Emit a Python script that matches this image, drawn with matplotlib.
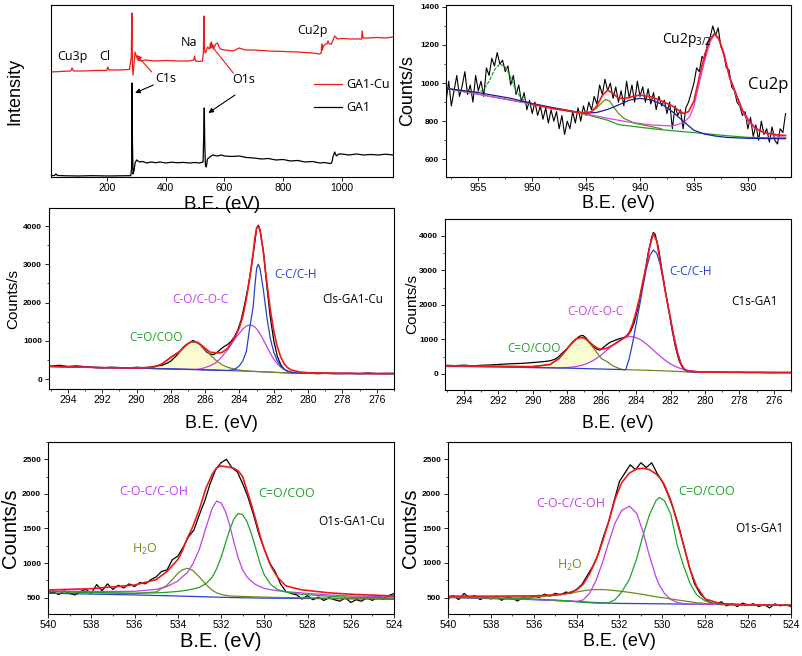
import matplotlib.pyplot as plt
import numpy as np
from matplotlib.ticker import AutoMinorLocator

plt.rcParams['font.family'] = ['Liberation Sans', 'DejaVu Sans']
plt.rcParams['mathtext.default'] = 'regular'
plt.rcParams['axes.linewidth'] = 0.8

RED = '#ee1a1a'
BLUE = '#2a40c8'
NAVY = '#1c1c9a'
PURPLE = '#c040ee'
MAGENTA = '#e040e0'
GREEN = '#1fa22a'
OLIVE = '#6e8a1c'
NOTE_FONT = ['Open Sans', 'DejaVu Sans']

# ---------------- survey ----------------
survey_ticks = [200, 400, 600, 800, 1000]
sv_ga1_x = [8, 20, 25, 30, 60, 100, 150, 200, 250, 280, 283, 284.5, 286, 288, 291, 295, 300, 310, 320,
            335, 350, 365, 380, 400, 420, 440, 460, 480, 500, 515, 527, 529, 531, 533, 535, 538, 542,
            550, 560, 575, 590, 600, 625, 650, 675, 700, 725, 750, 775, 800, 825, 850, 875, 900, 925,
            940, 960, 966, 970, 976, 982, 990, 1000, 1025, 1050, 1075, 1100, 1125, 1150, 1175]
sv_ga1_y = [1.5, 1.5, 3, 1.5, 1.2, 1.0, 1.3, 1.0, 1.2, 1.3, 8, 94, 35, 3, 6, 14, 17, 15, 15.5,
            14, 15, 14.3, 15, 14, 14.8, 14.2, 14.6, 14, 14.5, 14, 15, 40, 69, 30, 12, 10, 18,
            20, 22, 21, 22, 21, 20.5, 21, 19.5, 19, 18, 18.5, 17, 17.5, 16, 16.5, 15, 15.5, 14,
            14.5, 13.5, 14, 20, 25, 21, 23, 23, 22, 23, 22, 22.5, 22, 22.8, 22]
sv_cu_x = [8, 40, 75, 80, 85, 120, 160, 198, 202, 206, 240, 276, 282, 284, 286, 288, 291, 295, 300,
           305, 315, 330, 360, 400, 440, 480, 495, 498, 501, 515, 525, 528, 530, 532, 534, 537, 542,
           548, 555, 562, 570, 576, 585, 600, 630, 650, 670, 700, 750, 800, 850, 900, 925, 930, 932,
           934, 938, 945, 950, 953, 958, 965, 972, 977, 985, 1000, 1030, 1060, 1068, 1070, 1073,
           1090, 1120, 1150, 1175]
sv_cu_y = [105, 105.5, 106, 109, 106, 106, 106.5, 106.5, 110, 107, 107, 107.5, 120, 164, 110, 102,
           112, 125, 120, 117, 116, 117, 116, 116.5, 116, 116, 117, 121, 116, 115.5, 116, 125, 161,
           128, 124, 125, 130, 128, 135, 128, 133, 134, 128, 127, 126, 129, 127, 127, 126, 125.5,
           125, 124, 123, 124, 133, 127, 131, 133, 133, 136, 133, 133, 138, 141, 138, 138.5, 138,
           138, 138, 146, 139, 139, 139.5, 139, 140]

# ---------------- Cu2p ----------------
cu_raw = [900, 1010, 880, 960, 1040, 930, 985, 1060, 940, 990, 900, 1040, 960, 1010, 930, 1080,
          1040, 1130, 1090, 1160, 1100, 1120, 1060, 1090, 990, 1040, 940, 990, 900, 950, 860, 910,
          840, 900, 830, 880, 810, 870, 790, 860, 800, 850, 760, 830, 730, 800, 760, 850, 790, 870,
          800, 880, 830, 900, 860, 930, 890, 990, 940, 1020, 960, 1000, 920, 980, 900, 960, 880,
          1010, 920, 990, 900, 1010, 930, 980, 900, 970, 890, 950, 860, 930, 880, 910, 840, 900,
          760, 880, 830, 860, 760, 870, 900, 950, 1000, 1080, 1060, 1140, 1120, 1210, 1240, 1300,
          1250, 1290, 1190, 1160, 1080, 1070, 980, 960, 900, 880, 830, 850, 760, 820, 720, 780,
          700, 800, 730, 760, 690, 770, 700, 680, 760, 740, 840]
cu_raw_x = np.linspace(958, 926.5, len(cu_raw))
cu_blue_x = [958, 955, 952, 950, 948, 946, 945, 944, 943, 942, 941, 940, 939, 938, 937, 936.3, 935,
             934, 933, 932, 930, 927, 926.5]
cu_blue_y = [972, 950, 920, 893, 870, 850, 842, 846, 862, 885, 910, 920, 912, 890, 850, 815, 752,
             732, 722, 715, 710, 708, 708]
cu_half_x = [958, 956, 955, 954.5, 954, 953.5, 953, 952.5, 952, 951.5, 951, 950.5, 950, 949]
cu_half_y = [972, 958, 952, 965, 1010, 1070, 1100, 1085, 1030, 960, 920, 900, 890, 880]
cu_sat_x = [945, 944.5, 944, 943.5, 943.2, 942.8, 942.4, 942, 941.5, 940.5, 939, 938]
cu_sat_y = [838, 850, 870, 900, 914, 905, 870, 841, 815, 789, 772, 760]
cu_bg_x = [958, 950, 945, 943, 942, 940, 938, 936, 934, 932, 930, 927, 926.5]
cu_bg_y = [972, 890, 835, 805, 782, 768, 755, 745, 735, 724, 715, 712, 712]
cu_main_x = [958, 950, 945, 943, 941, 939, 937, 936, 935.4, 935, 934.5, 934, 933.5, 933.1, 932.7,
             932.2, 931.7, 931, 930.5, 930, 929.3, 928.5, 927, 926.5]
cu_main_y = [972, 890, 838, 815, 795, 780, 775, 790, 823, 880, 1000, 1120, 1215, 1255, 1230, 1140,
             1030, 920, 850, 800, 763, 740, 718, 715]
cu_env_x = [950, 948, 946, 945, 944.5, 944, 943.5, 943, 942.5, 942, 941.4, 940.5, 940, 939, 938.2,
            937, 936, 935.5, 935, 934.5, 934, 933.5, 933.1, 932.7, 932.2, 931.7, 931, 930.5, 930,
            929.3, 928.5, 927.1, 926.5]
cu_env_y = [888, 865, 848, 843, 850, 880, 935, 963, 945, 920, 920, 932, 937, 928, 911, 880, 841, 850,
            905, 1033, 1150, 1230, 1260, 1235, 1150, 1033, 930, 858, 810, 763, 740, 727, 725]

# ---------------- C1s GA1-Cu ----------------
c1a_raw_x = [295, 294.5, 294, 293.5, 293, 292.5, 292, 291.5, 291, 290.5, 290, 289.5, 289, 288.5,
             288.2, 288, 287.7, 287.5, 287.3, 287.1, 286.9, 286.7, 286.5, 286.3, 286.1, 285.9, 285.7,
             285.5, 285.3, 285.1, 284.9, 284.7, 284.5, 284.3, 284.1, 283.9, 283.7, 283.5, 283.3,
             283.1, 283.0, 282.9, 282.8, 282.6, 282.4, 282.2, 282.0, 281.8, 281.6, 281.4, 281.2,
             281, 280.5, 280, 279.5, 279, 278.5, 278, 277.5, 277, 276.5, 276, 275.5, 275]
c1a_raw_y = [340, 360, 330, 345, 325, 300, 290, 310, 300, 280, 310, 290, 330, 360, 420, 470, 600,
             700, 820, 900, 950, 1010, 960, 900, 800, 700, 650, 640, 700, 780, 850, 900, 980, 1100,
             1280, 1550, 1950, 2400, 2950, 3600, 3950, 4020, 3900, 3300, 2400, 1600, 1000, 600,
             380, 260, 200, 170, 150, 160, 140, 150, 140, 145, 150, 140, 160, 145, 150, 150]
c1a_x = [295, 292, 290, 289, 288.5, 288, 287.5, 287.2, 287, 286.8, 286.6, 286.4, 286.2, 286, 285.7,
         285.4, 285.2, 285, 284.7, 284.4, 284.2, 284, 283.8, 283.6, 283.4, 283.2, 283.1, 283, 282.9,
         282.8, 282.6, 282.4, 282.2, 282, 281.8, 281.6, 281.4, 281.2, 281, 280.5, 280, 278, 275]
c1a_base = [330, 300, 285, 275, 270, 265, 258, 255, 252, 250, 248, 246, 243, 240, 237, 233, 230, 227,
            222, 218, 215, 212, 208, 205, 202, 199, 197, 196, 194, 192, 188, 184, 180, 176, 172, 168,
            164, 160, 157, 152, 150, 145, 140]
c1a_coo = [330, 300, 288, 310, 400, 560, 700, 840, 920, 965, 968, 930, 860, 770, 630, 500, 430, 370,
           310, 270, 250, 235, 222, 214, 207, 202, 200, 198, 196, 194, 190, 185, 181, 177, 173, 169,
           165, 161, 158, 153, 150, 145, 140]
c1a_co = [330, 300, 285, 275, 270, 265, 258, 255, 253, 252, 254, 260, 275, 300, 350, 420, 500, 600,
          760, 960, 1090, 1200, 1310, 1390, 1415, 1390, 1360, 1310, 1250, 1180, 1020, 840, 670, 520,
          400, 310, 250, 210, 185, 160, 152, 146, 140]
c1a_cc = [330, 300, 285, 275, 270, 265, 258, 255, 252, 250, 248, 246, 243, 240, 237, 233, 230, 227,
          225, 240, 280, 350, 480, 720, 1350, 1900, 2450, 2900, 3000, 2880, 2300, 1600, 1050, 700,
          480, 340, 260, 210, 180, 158, 150, 145, 140]
c1a_env = [330, 300, 290, 310, 400, 570, 720, 850, 930, 975, 975, 950, 880, 800, 700, 690, 680, 700,
           800, 1000, 1150, 1350, 1650, 2100, 2650, 3300, 3700, 3950, 3990, 3880, 3300, 2500, 1800,
           1250, 850, 580, 400, 300, 240, 185, 165, 150, 140]

# ---------------- C1s GA1 ----------------
c1b_raw_x = [295, 294.5, 294, 293.5, 293, 292.5, 292, 291.5, 291, 290.5, 290, 289.5, 289, 288.7,
             288.5, 288.3, 288, 287.7, 287.5, 287.3, 287.1, 286.9, 286.7, 286.5, 286.3, 286.1, 285.9,
             285.7, 285.5, 285.3, 285.1, 284.9, 284.7, 284.5, 284.3, 284.1, 283.9, 283.7, 283.5,
             283.3, 283.1, 283, 282.9, 282.7, 282.5, 282.3, 282.1, 281.9, 281.7, 281.5, 281.3,
             281.1, 280.8, 280.5, 280, 279.5, 279, 278.5, 278, 277.5, 277, 276.5, 276, 275.5, 275]
c1b_raw_y = [250, 240, 255, 235, 250, 260, 275, 290, 300, 310, 330, 350, 380, 430, 500, 600, 740,
             900, 1000, 1090, 1120, 1040, 900, 800, 720, 690, 770, 850, 920, 960, 1000, 1030, 1060,
             1100, 1250, 1500, 1900, 2400, 2900, 3500, 3950, 4100, 4050, 3650, 3000, 2400, 1850,
             1250, 750, 380, 180, 100, 80, 70, 60, 55, 50, 45, 50, 40, 45, 40, 35, 40, 40]
c1b_x = [295, 292, 290, 289, 288.5, 288.2, 288, 287.7, 287.5, 287.2, 287, 286.8, 286.5, 286.2, 286,
         285.7, 285.4, 285.1, 284.8, 284.6, 284.4, 284.2, 284, 283.8, 283.6, 283.4, 283.2, 283,
         282.8, 282.6, 282.4, 282.2, 282, 281.8, 281.6, 281.4, 281.2, 281, 280.5, 280, 278, 275]
c1b_coo = [235, 220, 212, 270, 435, 600, 727, 913, 1006, 1060, 1028, 948, 767, 565, 441, 360, 250,
           180, 128, 124, 120, 118, 115, 112, 110, 107, 104, 100, 97, 93, 89, 85, 81, 77, 73, 68,
           63, 60, 55, 50, 45, 40]
c1b_co = [215, 205, 185, 180, 178, 182, 187, 200, 213, 244, 274, 312, 387, 486, 561, 685, 813, 929,
          1020, 1058, 1080, 1078, 1050, 1006, 944, 867, 783, 691, 600, 512, 430, 356, 291, 237, 192,
          155, 124, 102, 70, 55, 45, 40]
c1b_cc = [230, 205, 185, 178, 172, 170, 168, 165, 162, 158, 155, 152, 148, 145, 142, 138, 134, 130,
          126, 123, 450, 900, 1440, 1972, 2540, 3055, 3430, 3590, 3497, 3173, 2682, 2116, 1560,
          1075, 650, 300, 120, 62, 55, 50, 45, 40]
c1b_env = [235, 220, 212, 275, 440, 610, 740, 920, 1010, 1060, 1040, 975, 830, 730, 715, 745, 820,
           910, 1010, 1080, 1200, 1450, 1800, 2200, 2700, 3150, 3700, 4070, 3850, 3250, 2650, 2100,
           1600, 1050, 600, 300, 140, 85, 60, 52, 45, 40]

# ---------------- O1s GA1-Cu ----------------
o1a_raw = [560, 580, 545, 600, 560, 540, 590, 620, 560, 690, 600, 700, 620, 680, 640, 700, 660, 720,
           700, 760, 800, 880, 900, 1050, 1100, 1230, 1380, 1480, 1700, 1900, 2150, 2350, 2450, 2500,
           2380, 2320, 2150, 1950, 1700, 1420, 1200, 1000, 880, 700, 590, 560, 540, 480, 530, 470,
           510, 460, 500, 470, 450, 500, 430, 470, 450, 500, 460, 520, 480, 530, 560]
o1a_raw_x = np.linspace(540, 524, len(o1a_raw))
o1a_x = [540, 538, 536, 535, 534.5, 534, 533.8, 533.56, 533.3, 533, 532.7, 532.4, 532.2, 532, 531.8,
         531.6, 531.4, 531.2, 531, 530.8, 530.6, 530.4, 530.2, 530, 529.7, 529.4, 529, 528.3, 527,
         526, 524]
o1a_base = [565, 552, 540, 532, 528, 524, 522, 520, 518, 515, 512, 510, 508, 506, 505, 503, 502, 500,
            499, 498, 497, 496, 495, 494, 493, 492, 491, 489, 486, 483, 478]
o1a_h2o = [590, 575, 560, 583, 680, 849, 901, 925, 893, 799, 690, 606, 570, 548, 534, 526, 522, 520,
           518, 516, 514, 512, 510, 508, 506, 504, 502, 499, 494, 490, 485]
o1a_coc = [595, 590, 592, 620, 660, 740, 800, 860, 990, 1200, 1510, 1800, 1897, 1870, 1750, 1550,
           1300, 1070, 900, 800, 740, 690, 660, 635, 615, 600, 588, 570, 540, 525, 512]
o1a_coo = [590, 575, 565, 570, 578, 590, 598, 610, 625, 650, 700, 800, 920, 1080, 1280, 1480, 1640,
           1718, 1700, 1600, 1430, 1220, 1000, 830, 690, 620, 580, 550, 520, 505, 495]
o1a_env = [611, 630, 683, 760, 880, 1050, 1170, 1358, 1530, 1780, 2080, 2290, 2380, 2403, 2395, 2385,
           2370, 2330, 2250, 2050, 1850, 1630, 1400, 1200, 960, 800, 670, 615, 570, 550, 525]

# ---------------- O1s GA1 ----------------
o1b_raw = [480, 530, 470, 560, 500, 530, 470, 510, 480, 520, 460, 510, 490, 450, 510, 480, 530, 500,
           550, 520, 560, 540, 580, 560, 620, 690, 820, 950, 1120, 1380, 1600, 1900, 2180, 2300, 2420,
           2350, 2450, 2380, 2450, 2300, 2180, 2000, 1800, 1550, 1250, 950, 700, 560, 480, 420, 400,
           440, 380, 410, 370, 420, 390, 410, 370, 400, 350, 410, 380, 400, 370]
o1b_raw_x = np.linspace(540, 524, len(o1b_raw))
o1b_x = [540, 538, 536, 535, 534.5, 534, 533.7, 533.4, 533.1, 532.8, 532.5, 532.2, 531.9, 531.54,
         531.2, 530.9, 530.6, 530.3, 530.14, 529.9, 529.6, 529.3, 529, 528.7, 528.4, 528, 527.3, 526,
         524]
o1b_base = [500, 485, 470, 458, 450, 442, 438, 433, 428, 424, 420, 417, 415, 414, 413, 412, 411, 410,
            410, 409, 408, 407, 406, 405, 404, 403, 400, 395, 390]
o1b_h2o = [520, 508, 505, 530, 555, 580, 598, 610, 616, 615, 610, 600, 590, 575, 560, 545, 528, 512,
           505, 495, 480, 465, 452, 440, 425, 415, 405, 395, 390]
o1b_coc = [509, 490, 472, 458, 450, 445, 465, 560, 740, 1000, 1300, 1580, 1760, 1823, 1720, 1450,
           1100, 800, 680, 560, 470, 430, 412, 406, 404, 403, 400, 395, 390]
o1b_coo = [505, 492, 480, 465, 455, 440, 432, 425, 420, 418, 425, 470, 580, 760, 1060, 1400, 1700,
           1900, 1949, 1900, 1700, 1250, 950, 700, 540, 450, 400, 390, 388]
o1b_env = [519, 520, 525, 540, 556, 610, 690, 840, 1040, 1300, 1600, 1930, 2160, 2300, 2360, 2370,
           2350, 2290, 2240, 2130, 1900, 1580, 1250, 900, 660, 480, 413, 395, 388]


fig = plt.figure(figsize=(8.03, 6.56), dpi=100)


def spectrum_axes(rect, xlim, ylim, xticks, yticks, xlab_y, ylab_x, xlab_size, ylab_size):
    ax = fig.add_axes(rect)
    ax.set_xlim(*xlim)
    ax.set_ylim(*ylim)
    ax.set_xticks(xticks)
    ax.set_yticks(yticks)
    ax.xaxis.set_minor_locator(AutoMinorLocator(2))
    ax.yaxis.set_minor_locator(AutoMinorLocator(2))
    ax.tick_params(axis='x', which='major', labelsize=7.5, length=3, width=0.6, pad=1.5)
    ax.tick_params(axis='y', which='major', labelsize=6, length=3, width=0.6, pad=2)
    ax.tick_params(which='minor', length=1.5, width=0.5)
    plt.setp(ax.get_yticklabels(), fontweight='bold')
    ax.set_xlabel('B.E. (eV)', fontsize=xlab_size)
    ax.xaxis.set_label_coords(0.5, xlab_y)
    ax.set_ylabel('Counts/s', fontsize=ylab_size)
    ax.yaxis.set_label_coords(ylab_x, 0.5)
    return ax


def note(ax, x, y, s, color, size=8.5):
    ax.text(x, y, s, color=color, fontsize=size, ha='left', va='center', family=NOTE_FONT)


# ---- survey ----
ax1 = fig.add_axes([0.0635, 0.7302, 0.4259, 0.2622])
ax1.set_zorder(3)  # keep its x label above the panel below
ax1.plot(sv_cu_x, sv_cu_y, color=RED, lw=0.9, label='GA1-Cu')
ax1.plot(sv_ga1_x, sv_ga1_y, color='black', lw=0.9, label='GA1')
ax1.set_xlim(8, 1175)
ax1.set_ylim(0, 172)
ax1.set_xticks(survey_ticks)
ax1.set_yticks([])
ax1.tick_params(axis='x', labelsize=7.5, length=3, width=0.6, pad=1.5)
ax1.set_xlabel('B.E. (eV)', fontsize=13.5)
ax1.xaxis.set_label_coords(0.5, -0.108)
ax1.set_ylabel('Intensity', fontsize=13)
ax1.yaxis.set_label_coords(-0.082, 0.5)
for x, y, s in [(80, 120, 'Cu3p'), (192, 120, 'Cl'), (480, 134, 'Na'), (899, 146, 'Cu2p'),
                (401, 98, 'C1s'), (664, 97, 'O1s')]:
    ax1.text(x, y, s, fontsize=9, ha='center', va='center', family=NOTE_FONT)
arrow = dict(arrowstyle='-|>', lw=0.8, mutation_scale=7, shrinkA=0, shrinkB=0)
ax1.annotate('', xy=(300, 122), xytext=(352, 105), arrowprops=dict(arrow, color=RED))
ax1.annotate('', xy=(295, 84), xytext=(357, 92), arrowprops=dict(arrow, color='black'))
ax1.annotate('', xy=(548, 134), xytext=(630, 104), arrowprops=dict(arrow, color=RED))
ax1.annotate('', xy=(545, 64), xytext=(636, 82), arrowprops=dict(arrow, color='black'))
ax1.legend(loc='upper left', bbox_to_anchor=(0.735, 0.64), frameon=False, handlelength=2.3,
           handletextpad=0.3, labelspacing=0.8, prop={'family': NOTE_FONT, 'size': 9})

# ---- Cu2p ----
ax2 = spectrum_axes([0.5554, 0.7302, 0.4296, 0.2622], (958, 926), (507, 1410),
                    [955, 950, 945, 940, 935, 930], [600, 800, 1000, 1200, 1400],
                    -0.105, -0.088, 13, 13)
ax2.set_zorder(3)
ax2.plot(cu_raw_x, cu_raw, color='black', lw=0.8)
ax2.plot(cu_bg_x, cu_bg_y, color=GREEN, lw=0.9)
ax2.plot(cu_main_x, cu_main_y, color=MAGENTA, lw=0.9)
ax2.plot(cu_half_x, cu_half_y, color=GREEN, lw=0.9, ls=(0, (3, 1)))
ax2.plot(cu_sat_x, cu_sat_y, color=OLIVE, lw=0.9)
ax2.plot(cu_blue_x, cu_blue_y, color=NAVY, lw=0.9)
ax2.plot(cu_env_x, cu_env_y, color=RED, lw=1.2)
note(ax2, 938, 1228, 'Cu2p$_{3/2}$', 'black', 10)
note(ax2, 930, 990, 'Cu2p', 'black', 12)

# ---- C1s GA1-Cu ----
ax3 = spectrum_axes([0.0610, 0.4070, 0.4296, 0.2759], (295.1, 275), (-260, 4470),
                    list(range(294, 275, -2)), [0, 1000, 2000, 3000, 4000],
                    -0.144, -0.084, 13, 11)
ax3.fill_between(c1a_x, c1a_base, c1a_coo, color='#fbfbd2', lw=0)
ax3.plot(c1a_raw_x, c1a_raw_y, color='black', lw=0.9)
ax3.plot(c1a_x, c1a_base, color=BLUE, lw=0.8)
ax3.plot(c1a_x, c1a_coo, color=OLIVE, lw=0.9)
ax3.plot(c1a_x, c1a_co, color=PURPLE, lw=0.9)
ax3.plot(c1a_x, c1a_cc, color=BLUE, lw=0.9)
ax3.plot(c1a_x, c1a_env, color=RED, lw=1.2)
note(ax3, 282.0, 2723, 'C-C/C-H', BLUE)
note(ax3, 287.9, 2070, 'C-O/C-O-C', PURPLE)
note(ax3, 290.4, 1078, 'C=O/COO', GREEN)
note(ax3, 279.2, 2070, 'Cls-GA1-Cu', 'black')

# ---- C1s GA1 ----
ax4 = spectrum_axes([0.5542, 0.4055, 0.4309, 0.2607], (295.1, 275), (-465, 4490),
                    list(range(294, 275, -2)), [0, 1000, 2000, 3000, 4000],
                    -0.146, -0.075, 12.7, 11)
ax4.fill_between(c1b_x, c1b_co, c1b_coo, where=np.array(c1b_coo) > np.array(c1b_co),
                 color='#fbfbd2', lw=0)
ax4.plot(c1b_raw_x, c1b_raw_y, color='black', lw=0.9)
ax4.plot(c1b_x, c1b_coo, color=OLIVE, lw=0.9)
ax4.plot(c1b_x, c1b_co, color=PURPLE, lw=0.9)
ax4.plot(c1b_x, c1b_cc, color=BLUE, lw=0.9)
ax4.plot(c1b_x, c1b_env, color=RED, lw=1.2)
note(ax4, 282.1, 2965, 'C-C/C-H', BLUE)
note(ax4, 288.0, 1806, 'C-O/C-O-C', PURPLE)
note(ax4, 291.5, 745, 'C=O/COO', GREEN)
note(ax4, 278.5, 2100, 'C1s-GA1', 'black')

# ---- O1s GA1-Cu ----
ax5 = spectrum_axes([0.0598, 0.0640, 0.4309, 0.2622], (540, 524), (264, 2750),
                    list(range(540, 523, -2)), [500, 1000, 1500, 2000, 2500],
                    -0.105, -0.081, 14.5, 14.5)
ax5.plot(o1a_raw_x, o1a_raw, color='black', lw=0.9)
ax5.plot(o1a_x, o1a_base, color=BLUE, lw=0.9)
ax5.plot(o1a_x, o1a_h2o, color=OLIVE, lw=0.9)
ax5.plot(o1a_x, o1a_coc, color=PURPLE, lw=0.9)
ax5.plot(o1a_x, o1a_coo, color=GREEN, lw=0.9)
ax5.plot(o1a_x, o1a_env, color=RED, lw=1.2)
note(ax5, 536.7, 2032, 'C-O-C/C-OH', PURPLE, 9)
note(ax5, 530.3, 2009, 'C=O/COO', GREEN, 9)
note(ax5, 536.1, 1190, 'H$_2$O', OLIVE, 9)
note(ax5, 527.5, 1598, 'O1s-GA1-Cu', 'black', 8.5)

# ---- O1s GA1 ----
ax6 = spectrum_axes([0.5579, 0.0640, 0.4271, 0.2622], (540, 524), (262, 2750),
                    list(range(540, 523, -2)), [500, 1000, 1500, 2000, 2500],
                    -0.11, -0.082, 13, 14.5)
ax6.plot(o1b_raw_x, o1b_raw, color='black', lw=0.9)
ax6.plot(o1b_x, o1b_base, color=BLUE, lw=0.9)
ax6.plot(o1b_x, o1b_h2o, color=OLIVE, lw=0.9)
ax6.plot(o1b_x, o1b_coc, color=PURPLE, lw=0.9)
ax6.plot(o1b_x, o1b_coo, color=GREEN, lw=0.9)
ax6.plot(o1b_x, o1b_env, color=RED, lw=1.2)
note(ax6, 535.9, 1862, 'C-O-C/C-OH', PURPLE, 9)
note(ax6, 529.25, 2030, 'C=O/COO', GREEN, 9)
note(ax6, 534.9, 968, 'H$_2$O', OLIVE, 9)
note(ax6, 526.6, 1500, 'O1s-GA1', 'black', 8.5)

fig.savefig('out.png', dpi=100)
